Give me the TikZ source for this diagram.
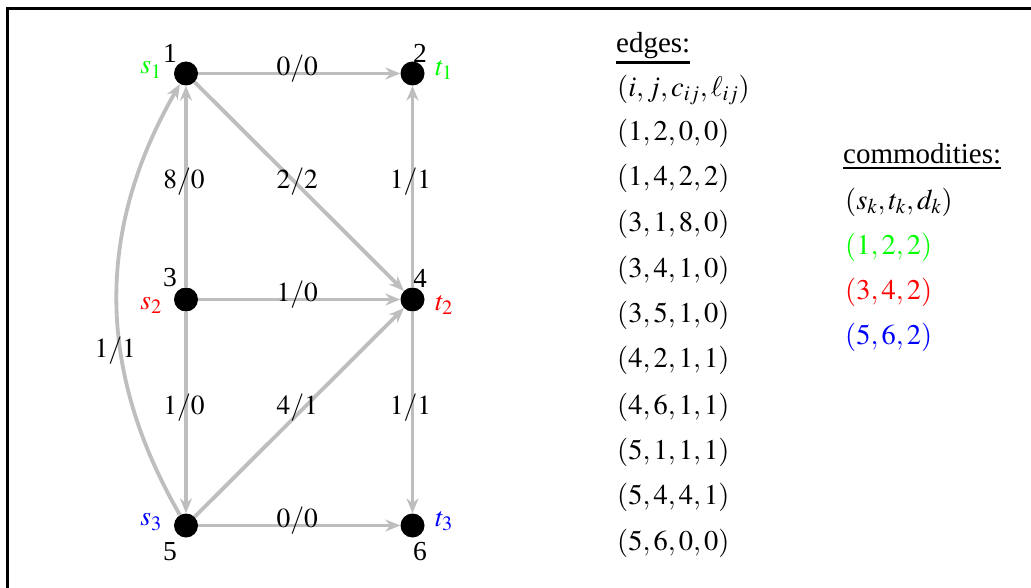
\documentclass[tikz,border=0pt]{standalone}
\usepackage{mathptmx}
\usepackage{fontspec}
\setmainfont{Liberation Serif}
\usetikzlibrary{arrows.meta}
\definecolor{edgegray}{RGB}{190,190,190}
\definecolor{cgreen}{RGB}{0,255,0}
\definecolor{cred}{RGB}{255,0,0}
\definecolor{cblue}{RGB}{0,0,255}
\tikzset{
  vtx/.style={circle,fill=black,minimum size=24pt,inner sep=0pt},
  edge/.style={draw=edgegray,line width=3.8pt,-{Stealth[length=15pt,width=12pt,inset=5pt,fill=edgegray]}},
  elbl/.style={midway,inner sep=0pt,xshift=-2pt,yshift=5pt,font=\fontsize{27.5}{32}\selectfont},
  nlbl/.style={inner sep=0pt,font=\fontsize{27.5}{32}\selectfont},
  tbl/.style={inner sep=0pt,anchor=west,font=\fontsize{28.5}{34}\selectfont},
  hdr/.style={inner sep=0pt,anchor=base west,font=\fontsize{29}{34}\selectfont},
  uline/.style={line width=2.7pt},
  frame/.style={line width=3pt}
}
\begin{document}
\begin{tikzpicture}[x=1pt,y=-1pt]
\useasboundingbox (0,0) rectangle (1031,588);
\clip (0,0) rectangle (1031,588);
\fill[white] (0,0) rectangle (1031,588);
\coordinate (fa) at (7.5,600);
\coordinate (fb) at (7.5,8.5);
\coordinate (fc) at (1040,8.5);
\draw[frame] (fa) -- (fb) -- (fc);

% vertices
\node[vtx] (n1) at (186,73.5) {};
\node[vtx] (n2) at (412.5,73.5) {};
\node[vtx] (n3) at (186,299.5) {};
\node[vtx] (n4) at (412.5,299.5) {};
\node[vtx] (n5) at (186,525.5) {};
\node[vtx] (n6) at (412.5,525.5) {};

% vertex numbers
\node[nlbl] (l1) at (170,53) {1};
\node[nlbl] (l2) at (420,53) {2};
\node[nlbl] (l3) at (170,278) {3};
\node[nlbl] (l4) at (420,278) {4};
\node[nlbl] (l5) at (170,552) {5};
\node[nlbl] (l6) at (420,552) {6};

% source / sink labels
\node[nlbl,text=cgreen] (s1) at (151,70) {$s_1$};
\node[nlbl,text=cgreen] (t1) at (444,70) {$t_1$};
\node[nlbl,text=cred] (s2) at (151,305) {$s_2$};
\node[nlbl,text=cred] (t2) at (444,305) {$t_2$};
\node[nlbl,text=cblue] (s3) at (151,522) {$s_3$};
\node[nlbl,text=cblue] (t3) at (444,521) {$t_3$};

% edges
\draw[edge] (n1) -- node[elbl]{$0/0$} (n2);
\draw[edge] (n1) -- node[elbl]{$2/2$} (n4);
\draw[edge] (n3) -- node[elbl]{$8/0$} (n1);
\draw[edge] (n3) -- node[elbl]{$1/0$} (n4);
\draw[edge] (n3) -- node[elbl]{$1/0$} (n5);
\draw[edge] (n4) -- node[elbl]{$1/1$} (n2);
\draw[edge] (n4) -- node[elbl]{$1/1$} (n6);
\draw[edge] (n5) to[bend left=30] node[elbl,pos=0.37,xshift=-4pt,yshift=-1pt]{$1/1$} (n1);
\draw[edge] (n5) -- node[elbl]{$4/1$} (n4);
\draw[edge] (n5) -- node[elbl]{$0/0$} (n6);

% edges table
\node[hdr] (eh) at (616,52.3) {edges:};
\draw[uline] ([yshift=-3.5pt]eh.south west) -- ([yshift=-3.5pt]eh.south east);
\node[tbl] (e0) at (617,90) {$(i,j,c_{ij},\ell_{ij})$};
\node[tbl] (e1) at (617,133) {$(1,2,0,0)$};
\node[tbl] (e2) at (617,178) {$(1,4,2,2)$};
\node[tbl] (e3) at (617,224) {$(3,1,8,0)$};
\node[tbl] (e4) at (617,270) {$(3,4,1,0)$};
\node[tbl] (e5) at (617,315) {$(3,5,1,0)$};
\node[tbl] (e6) at (617,360) {$(4,2,1,1)$};
\node[tbl] (e7) at (617,407) {$(4,6,1,1)$};
\node[tbl] (e8) at (617,452) {$(5,1,1,1)$};
\node[tbl] (e9) at (617,497) {$(5,4,4,1)$};
\node[tbl] (e10) at (617,543) {$(5,6,0,0)$};

% commodities table
\node[hdr] (ch) at (843,164) {commodities:};
\draw[uline] ([yshift=-3.5pt]ch.south west) -- ([yshift=-3.5pt]ch.south east);
\node[tbl] (c0) at (845,202) {$(s_k,t_k,d_k)$};
\node[tbl,text=cgreen] (c1) at (845,247) {$(1,2,2)$};
\node[tbl,text=cred] (c2) at (845,292) {$(3,4,2)$};
\node[tbl,text=cblue] (c3) at (845,337) {$(5,6,2)$};
\end{tikzpicture}
\end{document}
